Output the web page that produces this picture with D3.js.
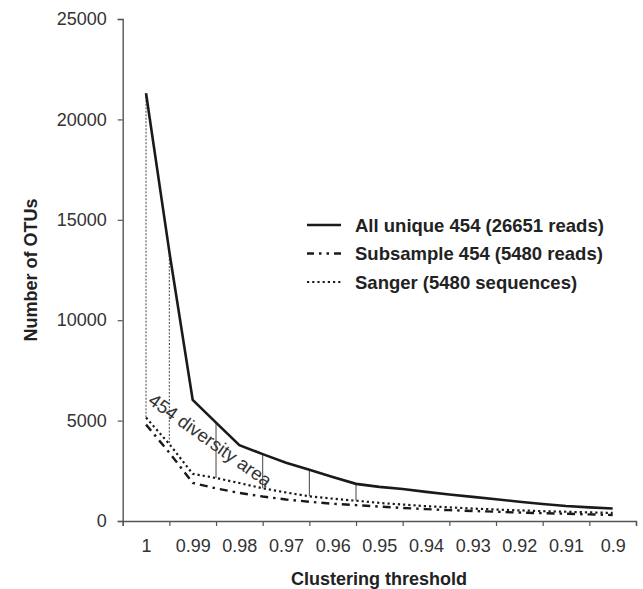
<!DOCTYPE html>
<html>
<head>
<meta charset="utf-8">
<script src="https://cdn.jsdelivr.net/npm/d3@7"></script>
<style>
  body { margin: 0; background: #fff; }
  text { font-family: "Liberation Sans", Arial, sans-serif; }
</style>
</head>
<body>
<svg id="chart"></svg>
<script>
var w = 643;
var h = 589;

// clustering thresholds (data every 0.005)
var thresholds = [1, 0.995, 0.99, 0.985, 0.98, 0.975, 0.97, 0.965, 0.96, 0.955, 0.95,
                  0.945, 0.94, 0.935, 0.93, 0.925, 0.92, 0.915, 0.91, 0.905, 0.9];
var allUnique = [21300, 13400, 6030, 4900, 3780, 3330, 2900, 2550, 2190, 1850, 1700,
                 1590, 1450, 1320, 1200, 1080, 960, 850, 750, 680, 620];
var subsample = [4800, 3400, 1900, 1620, 1400, 1220, 1070, 960, 860, 790, 720,
                 650, 590, 540, 500, 460, 420, 390, 360, 330, 300];
var sanger = [5150, 3830, 2350, 2140, 1890, 1630, 1420, 1230, 1110, 1010, 900,
              820, 740, 680, 620, 570, 530, 490, 460, 430, 400];
var xLabels = [1, 0.99, 0.98, 0.97, 0.96, 0.95, 0.94, 0.93, 0.92, 0.91, 0.9];
var xBounds = [1.005, 0.995, 0.985, 0.975, 0.965, 0.955, 0.945, 0.935, 0.925, 0.915, 0.905, 0.895];
var yTicks = [0, 5000, 10000, 15000, 20000, 25000];
// thresholds where the "diversity area" connectors are drawn
var dottedLinks = [1, 0.995];
var solidLinks = [0.985, 0.975, 0.965, 0.955];

var legendNames = ["All unique 454 (26651 reads)", "Subsample 454 (5480 reads)", "Sanger (5480 sequences)"];

var svg = d3.select("#chart").attr("width", w).attr("height", h);

var x = d3.scaleLinear().domain([1.005, 0.895]).range([122.7, 636]);
var y = d3.scaleLinear().domain([0, 25000]).range([521, 19]);

// axes
var yAxis = svg.append("g")
    .attr("transform", "translate(122.7,0)")
    .call(d3.axisLeft(y).tickValues(yTicks).tickSize(5).tickPadding(11).tickFormat(d3.format("d")));
var xAxis = svg.append("g")
    .attr("transform", "translate(0,521)")
    .call(d3.axisBottom(x).tickValues(xBounds).tickSize(5).tickFormat(""));
var xLab = svg.append("g")
    .attr("transform", "translate(0,521)")
    .call(d3.axisBottom(x).tickValues(xLabels).tickSize(0).tickPadding(18).tickFormat(function(d){ return String(d); }));
xLab.select(".domain").remove();

svg.selectAll(".domain").attr("stroke", "#555").attr("stroke-width", 1.4);
svg.selectAll(".tick line").attr("stroke", "#555").attr("stroke-width", 1.2);
svg.selectAll(".tick text").attr("fill", "#333").style("font-size", "18px");

// connectors between all unique and sanger curves
function val(arr, t) { return arr[thresholds.indexOf(t)]; }

svg.selectAll("line.dlink")
    .data(dottedLinks)
    .enter()
    .append("line")
    .attr("class", "dlink")
    .attr("x1", function(d){ return x(d); })
    .attr("x2", function(d){ return x(d); })
    .attr("y1", function(d){ return y(val(allUnique, d)); })
    .attr("y2", function(d){ return y(val(sanger, d)); })
    .attr("stroke", "#666")
    .attr("stroke-width", 1.2)
    .attr("stroke-dasharray", "2,1.5");

svg.selectAll("line.slink")
    .data(solidLinks)
    .enter()
    .append("line")
    .attr("class", "slink")
    .attr("x1", function(d){ return x(d); })
    .attr("x2", function(d){ return x(d); })
    .attr("y1", function(d){ return y(val(allUnique, d)); })
    .attr("y2", function(d){ return y(val(sanger, d)); })
    .attr("stroke", "#444")
    .attr("stroke-width", 1);

// series lines
var line = d3.line()
    .x(function(d, i){ return x(thresholds[i]); })
    .y(function(d){ return y(d); });

var styles = [
    {data: allUnique, width: 2.6, dash: null},
    {data: subsample, width: 2.4, dash: "8,5,2.5,5"},
    {data: sanger, width: 2.2, dash: "2.2,3"}
];

styles.forEach(function(s){
    svg.append("path")
        .datum(s.data)
        .attr("fill", "none")
        .attr("stroke", "#1a1a1a")
        .attr("stroke-width", s.width)
        .attr("stroke-dasharray", s.dash)
        .attr("d", line);
});

// annotation
svg.append("text")
    .attr("transform", "translate(147,403) rotate(35.5)")
    .attr("fill", "#333")
    .style("font-size", "18.5px")
    .text("454 diversity area");

// legend
var legend = svg.append("g");
legendNames.forEach(function(name, i){
    var ly = 225 + i * 28.5;
    legend.append("line")
        .attr("x1", 307).attr("x2", 341)
        .attr("y1", ly).attr("y2", ly)
        .attr("stroke", "#1a1a1a")
        .attr("stroke-width", styles[i].width)
        .attr("stroke-dasharray", i == 1 ? "7,5,2.5,5,2.5,5" : styles[i].dash);
    legend.append("text")
        .attr("x", 355)
        .attr("y", ly + 6.5)
        .attr("fill", "#222")
        .style("font-size", "18.5px")
        .style("font-weight", "bold")
        .text(name);
});

// axis titles
svg.append("text")
    .attr("x", 379)
    .attr("y", 584.5)
    .attr("text-anchor", "middle")
    .attr("fill", "#222")
    .style("font-size", "18px")
    .style("font-weight", "bold")
    .text("Clustering threshold");

svg.append("text")
    .attr("transform", "translate(37,270) rotate(-90)")
    .attr("text-anchor", "middle")
    .attr("fill", "#222")
    .style("font-size", "18px")
    .style("font-weight", "bold")
    .text("Number of OTUs");
</script>
</body>
</html>
